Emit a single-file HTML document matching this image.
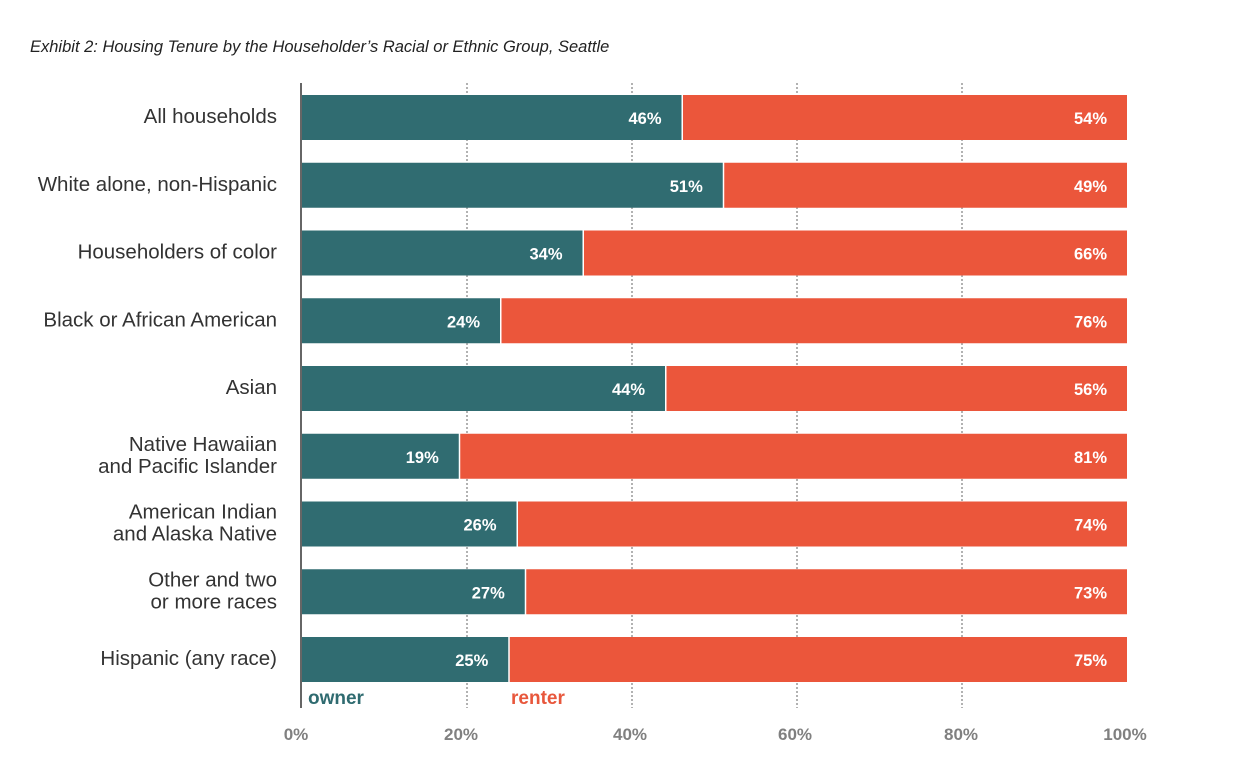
<!DOCTYPE html>
<html><head><style>
body{margin:0;background:#fff;}
svg text{font-family:"Liberation Sans",sans-serif;}
</style></head><body>
<svg width="1236" height="766" xmlns="http://www.w3.org/2000/svg">
<rect width="1236" height="766" fill="#fff"/>
<text x="30" y="52" font-size="16.5" font-style="italic" fill="#222">Exhibit 2: Housing Tenure by the Householder’s Racial or Ethnic Group, Seattle</text>
<g stroke="#999" stroke-width="1.5" stroke-dasharray="2,2">
<line x1="467" y1="83" x2="467" y2="708"/>
<line x1="632" y1="83" x2="632" y2="708"/>
<line x1="797" y1="83" x2="797" y2="708"/>
<line x1="962" y1="83" x2="962" y2="708"/>
</g>
<g id="bars" font-weight="bold" font-size="16.5" fill="#fff"></g>
<line x1="301" y1="83" x2="301" y2="708" stroke="#666" stroke-width="2"/>
<g font-size="20.5" fill="#333" text-anchor="end" id="labels"></g>
<text x="308" y="704" font-size="19" font-weight="bold" fill="#2f6b70">owner</text>
<text x="511" y="704" font-size="19" font-weight="bold" fill="#e8573c">renter</text>
<g font-size="17" font-weight="bold" fill="#808080" text-anchor="middle">
<text x="296" y="740">0%</text>
<text x="461" y="740">20%</text>
<text x="630" y="740">40%</text>
<text x="795" y="740">60%</text>
<text x="961" y="740">80%</text>
<text x="1125" y="740">100%</text>
</g>
<script>
var d=[["All households",null,46],["White alone, non-Hispanic",null,51],["Householders of color",null,34],["Black or African American",null,24],["Asian",null,44],["Native Hawaiian","and Pacific Islander",19],["American Indian","and Alaska Native",26],["Other and two","or more races",27],["Hispanic (any race)",null,25]];
var ns="http://www.w3.org/2000/svg",b=document.getElementById("bars"),l=document.getElementById("labels");
function el(p,t,a,tx){var e=document.createElementNS(ns,t);for(var k in a)e.setAttribute(k,a[k]);if(tx)e.textContent=tx;p.appendChild(e);return e;}
d.forEach(function(r,i){var y=95+i*67.75,v=r[2],x=302+v*8.25;
el(b,"rect",{x:302,y:y,width:x-302,height:45,fill:"#306c71"});
el(b,"rect",{x:x+1.5,y:y,width:1127-x-1.5,height:45,fill:"#eb563b"});
el(b,"text",{x:x-20,y:y+29,"text-anchor":"end"},v+"%");
el(b,"text",{x:1107,y:y+29,"text-anchor":"end"},(100-v)+"%");
if(r[1]){el(l,"text",{x:277,y:y+17},r[0]);el(l,"text",{x:277,y:y+39},r[1]);}
else el(l,"text",{x:277,y:y+28},r[0]);
});
</script>
</svg>
</body></html>
